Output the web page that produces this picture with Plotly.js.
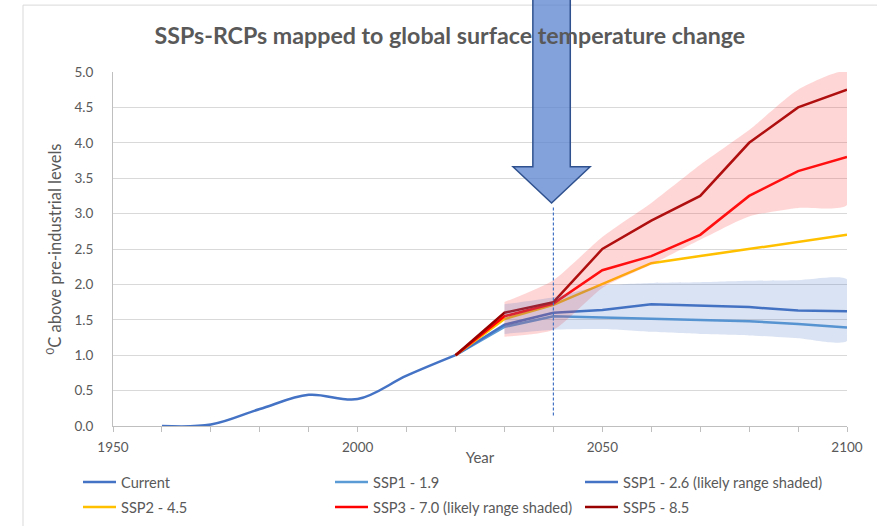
<!DOCTYPE html>
<html>
<head>
<meta charset="utf-8">
<script src="https://cdn.plot.ly/plotly-3.0.1.min.js"></script>
<style>html,body{margin:0;padding:0;background:#fff;}#chart{width:877px;height:526px;}</style>
</head>
<body>
<div id="chart"></div>
<script>
// ---- data ----
const currentYears = [1960, 1970, 1980, 1990, 2000, 2010, 2020];
const currentVals  = [0.00, 0.02, 0.24, 0.44, 0.38, 0.71, 1.00];

const futureYears = [2020, 2030, 2040, 2050, 2060, 2070, 2080, 2090, 2100];
const ssp119 = [1.00, 1.40, 1.55, 1.53, 1.51, 1.50, 1.48, 1.44, 1.39];
const ssp126 = [1.00, 1.43, 1.60, 1.64, 1.72, 1.70, 1.68, 1.63, 1.62];
const ssp245 = [1.00, 1.51, 1.71, 2.00, 2.30, 2.40, 2.50, 2.60, 2.70];
const ssp370 = [1.00, 1.55, 1.73, 2.20, 2.40, 2.70, 3.25, 3.60, 3.80];
const ssp585 = [1.00, 1.60, 1.75, 2.50, 2.90, 3.25, 4.00, 4.50, 4.75];

// likely ranges (shaded)
const bandYears   = [2030, 2040, 2050, 2060, 2070, 2080, 2090, 2100];
const ssp126Low   = [1.30, 1.36, 1.37, 1.33, 1.30, 1.28, 1.24, 1.20];
const ssp126High  = [1.72, 1.82, 1.98, 2.02, 2.03, 2.05, 2.06, 2.07];
const ssp370Low   = [1.26, 1.36, 1.95, 2.28, 2.63, 2.96, 3.08, 3.12];
const ssp370High  = [1.75, 2.06, 2.67, 3.15, 3.69, 4.18, 4.75, 5.00];

const seriesNames = ['Current', 'SSP1 - 1.9', 'SSP1 - 2.6 (likely range shaded)',
                     'SSP2 - 4.5', 'SSP3 - 7.0 (likely range shaded)', 'SSP5 - 8.5'];

const xTickVals = [1950, 2000, 2050, 2100];
const yTickVals = [0, 0.5, 1, 1.5, 2, 2.5, 3, 3.5, 4, 4.5, 5];
const yTickText = yTickVals.map(v => v.toFixed(1));
const markerYear = 2040;

// ---- build ----
function band(xs, lo, hi, color) {
  return {
    x: xs.concat(xs.slice().reverse()),
    y: hi.concat(lo.slice().reverse()),
    type: 'scatter', mode: 'lines', fill: 'toself', fillcolor: color,
    line: {width: 0, shape: 'spline', smoothing: 0.6},
    hoverinfo: 'skip', showlegend: false
  };
}
function line(xs, ys, name, color, legendId, shape) {
  return {x: xs, y: ys, name: name, type: 'scatter', mode: 'lines', legend: legendId,
          line: {color: color, width: 2.5, shape: shape || 'linear'}};
}

const traces = [
  line(currentYears, currentVals, seriesNames[0], '#4472c4', 'legend', 'spline'),
  line(futureYears, ssp119, seriesNames[1], '#5b9bd5', 'legend2'),
  line(futureYears, ssp126, seriesNames[2], '#4472c4', 'legend3'),
  line(futureYears, ssp245, seriesNames[3], '#ffc000', 'legend4'),
  line(futureYears, ssp370, seriesNames[4], '#ff0000', 'legend5'),
  line(futureYears, ssp585, seriesNames[5], '#990000', 'legend6'),
  band(bandYears, ssp370Low, ssp370High, 'rgba(255,70,70,0.22)'),
  band(bandYears, ssp126Low, ssp126High, 'rgba(68,114,196,0.20)')
];

const FONT = 'Lato, "Open Sans", sans-serif';
function legendAt(px, py) {
  return {orientation: 'h', xref: 'container', x: px / 877, xanchor: 'left',
    yref: 'container', y: 1 - py / 526, yanchor: 'top',
    font: {size: 14.6, color: '#595959'}, itemwidth: 33, bgcolor: 'rgba(0,0,0,0)'};
}

const layout = {
  width: 877, height: 526,
  margin: {l: 113, r: 30, t: 72, b: 100},
  paper_bgcolor: '#ffffff', plot_bgcolor: '#ffffff',
  font: {family: FONT, color: '#595959', size: 13},
  title: {text: 'SSPs-RCPs mapped to global surface temperature change',
          font: {family: FONT, size: 23.2, color: '#595959', weight: 'bold'},
          x: 0.513, xanchor: 'center', y: 0.932, yanchor: 'middle'},
  xaxis: {range: [1950, 2100], tickvals: xTickVals, ticks: 'outside', ticklen: 5,
          tickcolor: '#bfbfbf', showline: true, linecolor: '#bfbfbf', linewidth: 1,
          showgrid: false, zeroline: false, ticklabelstandoff: 4,
          minor: {dtick: 10, tick0: 1950, ticks: 'outside', ticklen: 5, tickcolor: '#bfbfbf', showgrid: false},
          tickfont: {size: 13.5, color: '#595959'},
          title: {text: 'Year', font: {size: 15, color: '#595959'}, standoff: 2}},
  yaxis: {range: [0, 5], tickvals: yTickVals, ticktext: yTickText, ticks: '',
          showline: true, linecolor: '#bfbfbf', linewidth: 1,
          showgrid: true, gridcolor: '#d9d9d9', gridwidth: 1, zeroline: false,
          ticklabelstandoff: 16,
          tickfont: {size: 13.5, color: '#595959'},
          title: {text: '<sup>0</sup>C above pre-industrial levels', font: {size: 16.5, color: '#595959'}, standoff: 8}},
  legend:  legendAt(78, 466),
  legend2: legendAt(330, 466),
  legend3: legendAt(580, 466),
  legend4: legendAt(78, 491),
  legend5: legendAt(330, 491),
  legend6: legendAt(580, 491),
  shapes: [
    // outer chart frame
    {type: 'rect', xref: 'paper', yref: 'paper', x0: -0.1226, x1: 1.06, y0: -0.30, y1: 1.189,
     line: {color: '#d9d9d9', width: 1}, fillcolor: 'rgba(0,0,0,0)', layer: 'below'},
    // dashed marker line
    {type: 'line', xref: 'x', yref: 'y', x0: markerYear, x1: markerYear, y0: 0.15, y1: 3.1,
     line: {color: '#4472c4', width: 1.2, dash: '3px,2px'}},
    // big arrow
    {type: 'path', xref: 'paper', yref: 'paper',
     path: 'M 0.572 1.25 L 0.623 1.25 L 0.623 0.732 L 0.650 0.732 L 0.5975 0.630 L 0.545 0.732 L 0.572 0.732 Z',
     fillcolor: 'rgba(90,130,205,0.75)', line: {color: '#2f528f', width: 1.5}}
  ]
};

Plotly.newPlot('chart', traces, layout, {displayModeBar: false, staticPlot: true});
</script>
</body>
</html>
